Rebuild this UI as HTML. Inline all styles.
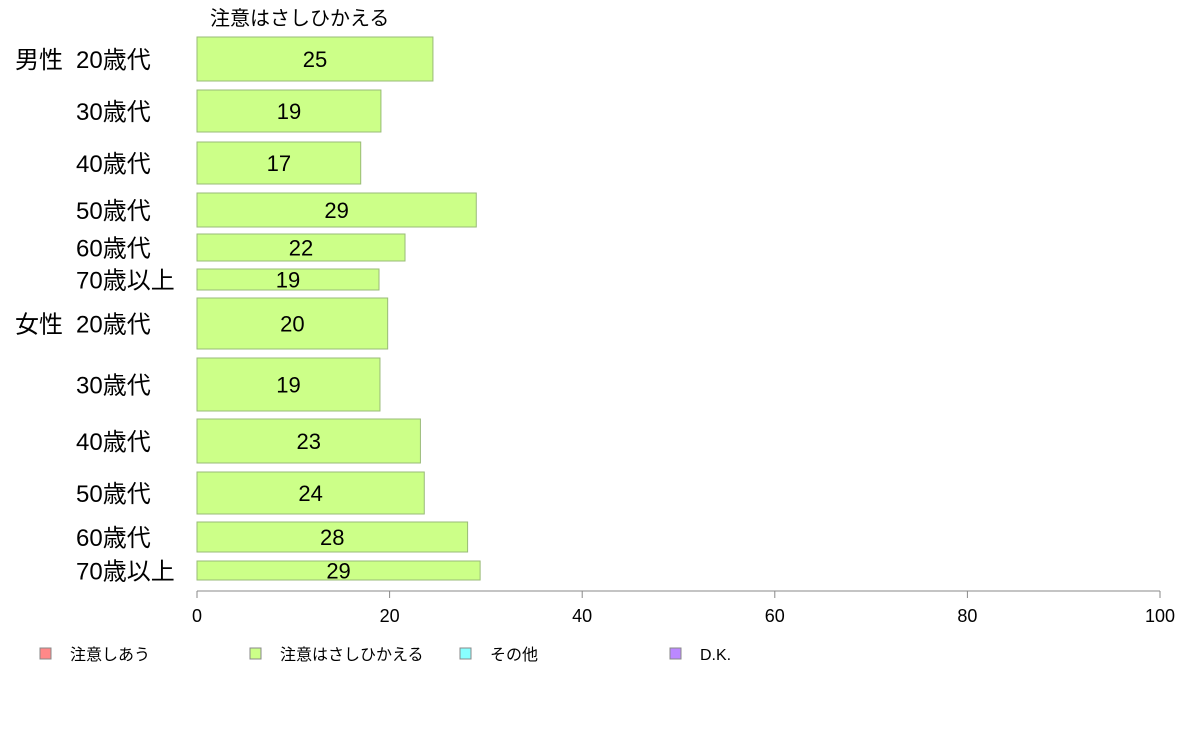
<!DOCTYPE html>
<html><head><meta charset="utf-8"><style>
body{margin:0;background:#fff;}
svg{display:block;font-family:"Liberation Sans","Noto Sans CJK JP",sans-serif;}
</style></head><body>
<svg id="chart" width="1188" height="736" viewBox="0 0 1188 736" xmlns="http://www.w3.org/2000/svg">
<text x="210" y="25" font-size="20" fill="#000">注意はさしひかえる</text>
<g id="bars"></g>
<g id="axis"></g>
<g id="legend"></g>
</svg>
<script>
const groups = ["男性","","","","","","女性","","","","",""];
const categories = ["20歳代","30歳代","40歳代","50歳代","60歳代","70歳以上","20歳代","30歳代","40歳代","50歳代","60歳代","70歳以上"];
const values = [24.5,19.1,17.0,29.0,21.6,18.9,19.8,19.0,23.2,23.6,28.1,29.4];
const rowTops = [37,90,142,193,234,269,298,358,419,472,522,561];
const rowHeights = [44,42,42,34,27,21,51,53,44,42,30,19];
const ticks = [0,20,40,60,80,100];
const legendLabels = ["注意しあう","注意はさしひかえる","その他","D.K."];
const legendColors = ["#ff8888","#ccff88","#88ffff","#bb88ff"];

const NS="http://www.w3.org/2000/svg";
const x0=197,x1=1160;
const xs=v=>x0+(x1-x0)*v/100;
function mk(tag,attrs,parent,text){const e=document.createElementNS(NS,tag);for(const k in attrs)e.setAttribute(k,attrs[k]);if(text!==undefined)e.textContent=text;parent.appendChild(e);return e;}
const bars=document.getElementById('bars');
values.forEach((v,i)=>{
  const y=rowTops[i],h=rowHeights[i],cy=y+h/2;
  const r=mk('rect',{x:x0,y:y,width:xs(v)-x0,height:h,fill:"#ccff88",stroke:"#99bb77","stroke-width":1},bars);
  
  
  const t=mk('text',{x:(x0+xs(v))/2,y:cy+8,"font-size":22,"text-anchor":"middle",fill:"#000"},bars,Math.round(v));
  
  
  const c=mk('text',{x:76,y:cy+9,"font-size":24,fill:"#000"},bars,categories[i]);
  
  
  if(groups[i]){
    const g=mk('text',{x:15,y:cy+9,"font-size":24,fill:"#000"},bars,groups[i]);
    
    
  }
});
const ax=document.getElementById('axis');
const line=mk('line',{x1:x0,x2:x1,y1:591,y2:591,stroke:"#888","stroke-width":1},ax);


ticks.forEach(t=>{
  const tl=mk('line',{x1:xs(t),x2:xs(t),y1:591,y2:598,stroke:"#888","stroke-width":1},ax);
  
  
  const tt=mk('text',{x:xs(t),y:622,"font-size":18,"text-anchor":"middle",fill:"#000"},ax,t);
  
  
});
const lg=document.getElementById('legend');
legendLabels.forEach((l,i)=>{
  const lx=40+i*210;
  const s=mk('rect',{x:lx,y:648,width:11,height:11,fill:legendColors[i],stroke:"#888","stroke-width":1},lg);
  
  
  const t=mk('text',{x:lx+30,y:660,"font-size":16,fill:"#000"},lg,l);
  
  
});
</script>
</body></html>
